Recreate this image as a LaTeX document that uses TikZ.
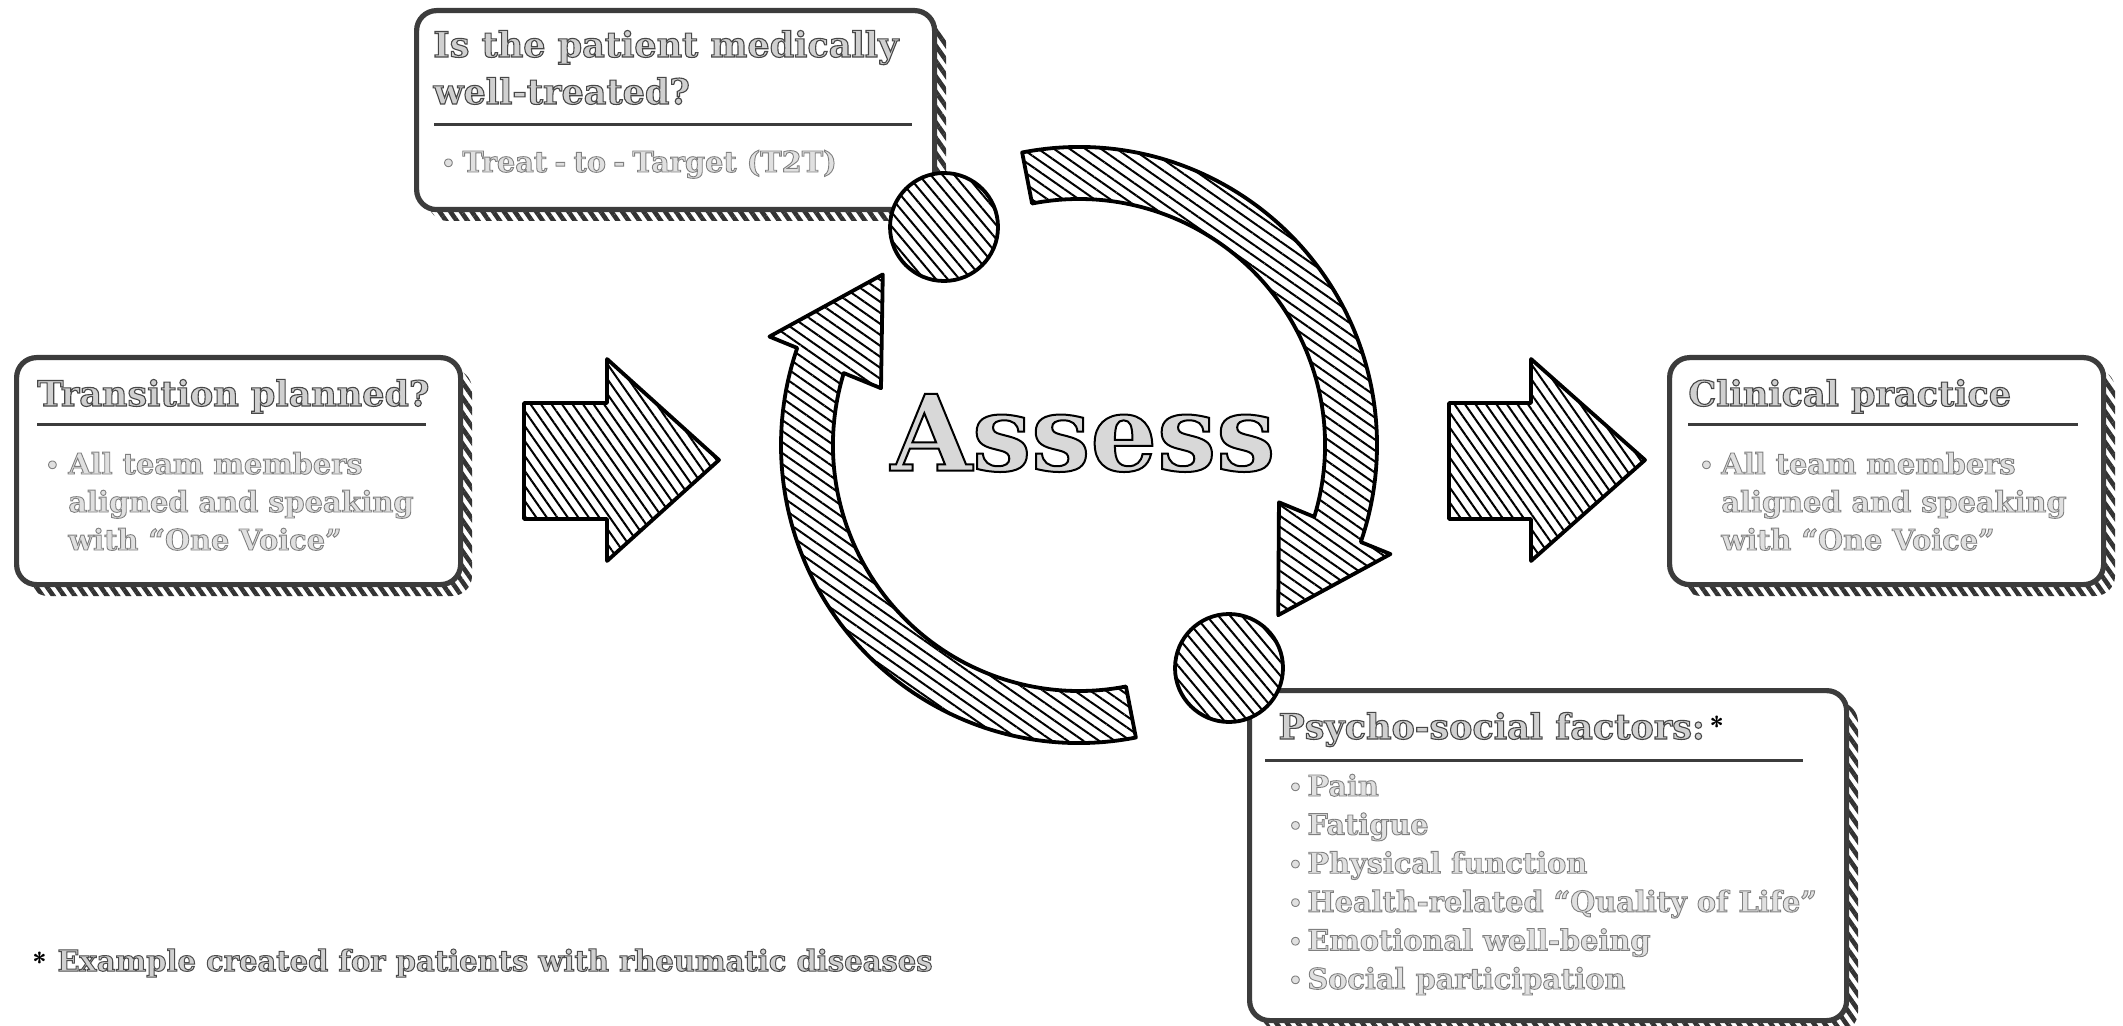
\documentclass[tikz,border=0pt]{standalone}
\usepackage{fontspec}
\setmainfont{DejaVu Serif}
\usetikzlibrary{patterns.meta,calc}
\definecolor{boxline}{HTML}{3C3C3C}
\definecolor{titlefill}{HTML}{D0D0D0}
\definecolor{bodyfill}{HTML}{E0E0E0}
\definecolor{bigfill}{HTML}{D8D8D8}
% outline text: fill colour set with \color, then stroke grey level and width
\newcommand{\OutlineOn}[3]{\color{#1}\special{pdf:literal direct #2 G #3 w 2 Tr}}
\newcommand{\OutlineOff}{\special{pdf:literal direct 0 Tr}}
\begin{document}
\begin{tikzpicture}[x=0.5pt,y=-0.5pt,
  infobox/.style={draw=boxline,line width=2.6pt,rounded corners=10pt,fill=white,inner sep=0pt,anchor=north west},
  boxshadow/.style={pattern={Lines[angle=-55,distance=4.4pt,line width=2.3pt]},pattern color=black!80,rounded corners=10pt},
  hatched/.style={draw=black,line width=1.9pt,line join=round,preaction={fill=white},pattern={Lines[angle=-35,distance=4.5pt,line width=1pt]},pattern color=black},
  steephatched/.style={hatched,pattern={Lines[angle=-55,distance=4.3pt,line width=1pt]}},
  dothatched/.style={hatched,pattern={Lines[angle=-50,distance=4.5pt,line width=1pt]}},
  titlerule/.style={draw=boxline,line width=1.5pt},
  titletext/.style={font=\fontsize{17.5}{21}\selectfont\bfseries,anchor=base west,inner sep=0pt,
     execute at begin node=\OutlineOn{titlefill}{0.28}{0.55},execute at end node=\OutlineOff},
  bodytext/.style={font=\fontsize{14.4}{19}\selectfont\bfseries,anchor=base west,inner sep=0pt,
     execute at begin node=\OutlineOn{bodyfill}{0.5}{0.45},execute at end node=\OutlineOff},
  bullettext/.style={font=\fontsize{11}{19}\selectfont\bfseries,anchor=base west,inner sep=0pt,
     execute at begin node=\OutlineOn{bodyfill}{0.5}{0.45},execute at end node=\OutlineOff},
  notetext/.style={font=\fontsize{14.5}{18}\selectfont\bfseries,anchor=base west,inner sep=0pt,
     execute at begin node=\OutlineOn{titlefill}{0.3}{0.5},execute at end node=\OutlineOff},
  startext/.style={font=\fontsize{13}{16}\selectfont\sffamily\bfseries,anchor=base west,inner sep=0pt,text=black},
  bigtext/.style={font=\fontsize{52.5}{58}\selectfont\bfseries,anchor=center,inner sep=0pt,
     execute at begin node=\OutlineOn{bigfill}{0}{1},execute at end node=\OutlineOff}
]
\useasboundingbox (0,0) rectangle (2123,1026);

% ---------- top box ----------
\fill[boxshadow] (428,22) rectangle (946,221);
\node[infobox,minimum width=259pt,minimum height=99.5pt] (topbox) at (414,8) {};
\node[titletext] (toptitleA) at (433,57) {Is the patient medically};
\node[titletext] (toptitleB) at (433,104) {well-treated?};
\coordinate (toprl) at (434,125);
\coordinate (toprr) at (912,125);
\draw[titlerule] (toprl) -- (toprr);
\node[bullettext] (topbul) at (441,171) {•};
\node[bodytext] (topitem) at (462,172) {Treat\hspace{0.25em}-\hspace{0.25em}to\hspace{0.25em}-\hspace{0.25em}Target (T2T)};

% ---------- left box ----------
\fill[boxshadow] (28,369) rectangle (472,596);
\node[infobox,minimum width=222pt,minimum height=113.5pt] (leftbox) at (14,355) {};
\node[titletext] (lefttitle) at (37,406) {Transition planned?};
\coordinate (leftrl) at (37,424);
\coordinate (leftrr) at (426,424);
\draw[titlerule] (leftrl) -- (leftrr);
\node[bullettext] (leftbul) at (45,473) {•};
\node[bodytext] (leftitemA) at (68,474) {All team members};
\node[bodytext] (leftitemB) at (68,512) {aligned and speaking};
\node[bodytext] (leftitemC) at (68,550) {with “One Voice”};

% ---------- right box ----------
\fill[boxshadow] (1681,369) rectangle (2115,596);
\node[infobox,minimum width=217pt,minimum height=113.5pt] (rightbox) at (1667,355) {};
\node[titletext] (righttitle) at (1688,406) {Clinical practice};
\coordinate (rightrl) at (1688,424);
\coordinate (rightrr) at (2078,424);
\draw[titlerule] (rightrl) -- (rightrr);
\node[bullettext] (rightbul) at (1699,473) {•};
\node[bodytext] (rightitemA) at (1721,474) {All team members};
\node[bodytext] (rightitemB) at (1721,512) {aligned and speaking};
\node[bodytext] (rightitemC) at (1721,550) {with “One Voice”};

% ---------- bottom box ----------
\fill[boxshadow] (1261,702) rectangle (1858,1032);
\node[infobox,minimum width=298.5pt,minimum height=165pt] (botbox) at (1247,688) {};
\node[titletext] (bottitle) at (1278,739) {Psycho-social factors:};
\node[startext] (botstar) at ([xshift=2pt,yshift=2pt]bottitle.base east) {*};
\coordinate (botrl) at (1265,760);
\coordinate (botrr) at (1803,760);
\draw[titlerule] (botrl) -- (botrr);
\foreach \i/\t [count=\k] in {796/Pain,834.6/Fatigue,873.2/Physical function,911.8/Health-related “Quality of Life”,950.4/Emotional well-being,989/Social participation}{
  \node[bullettext] (botbul\k) at (1288,\i-1) {•};
  \node[bodytext] (botitem\k) at (1307,\i) {\t};
}

% ---------- footnote ----------
\node[startext] (notestar) at (32,971) {*};
\node[notetext] (note) at (57,971) {Example created for patients with rheumatic diseases};

% ---------- block arrows ----------
\path[steephatched] (524,403) -- (607,403) -- (607,359) -- (719,460) -- (607,561) -- (607,519) -- (524,519) -- cycle;
\path[steephatched] (1449,403) -- (1531,403) -- (1531,359) -- (1645,460) -- (1531,561) -- (1531,519) -- (1449,519) -- cycle;

% ---------- cycle arrows ----------
\begin{scope}[shift={(1079,445)},x=0.5pt,y=0.5pt]
  \path[hatched] (101:298) arc[start angle=101,end angle=-19,radius=298]
     -- (-19.3:330) -- (-40.5:262) -- (-16:208) -- (-17:246)
     arc[start angle=-17,end angle=101,radius=246] -- cycle;
  \path[hatched] (281:298) arc[start angle=281,end angle=161,radius=298]
     -- (160.7:328) -- (139:260) -- (164:206) -- (163:246)
     arc[start angle=163,end angle=281,radius=246] -- cycle;
\end{scope}

% ---------- circles ----------
\node[dothatched,circle,minimum size=54pt,inner sep=0pt] (topdot) at (944,227) {};
\node[dothatched,circle,minimum size=54pt,inner sep=0pt] (botdot) at (1229,668) {};

% ---------- centre word ----------
\node[bigtext] (assess) at (1083,433) {Assess};
\end{tikzpicture}
\end{document}
